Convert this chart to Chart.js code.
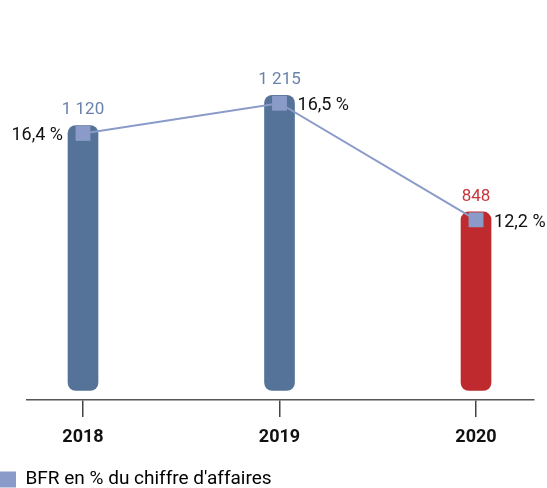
<!DOCTYPE html>
<html>
<head>
<meta charset="utf-8">
<script src="https://cdn.jsdelivr.net/npm/chart.js@4/dist/chart.umd.min.js"></script>
<style>
html, body { margin: 0; padding: 0; background: #ffffff; }
#wrap { width: 547px; height: 488px; position: relative; }
</style>
</head>
<body>
<div id="wrap"><canvas id="c" width="547" height="488"></canvas></div>
<script>
// ---- data ----
const years = ['2018', '2019', '2020'];
const bfrValues = [1120, 1215, 848];
const bfrPct = [16.4, 16.5, 12.2];
const legendLabel = "BFR en % du chiffre d'affaires";

// ---- styles ----
const barColors = ['#557398', '#557398', '#bf2a2f'];
const valueLabelColors = ['#6883ab', '#6883ab', '#c7363b'];
const lineColor = '#8a9bc9';
const pctSide = ['left', 'right', 'right'];
const yMin = 256, yMax = 1452, barBase = 286, markerShift = 25;

const fmtNum = v => String(v).replace(/\B(?=(\d{3})+(?!\d))/g, ' ');
const fmtPct = v => v.toFixed(1).replace('.', ',') + ' %';

Chart.defaults.font.family = 'Roboto, "Liberation Sans", sans-serif';

const labelPlugin = {
  id: 'valueLabels',
  afterDatasetsDraw(chart) {
    const ctx = chart.ctx;
    ctx.save();
    ctx.textBaseline = 'alphabetic';
    ctx.font = '17px Roboto';
    ctx.textAlign = 'center';
    chart.getDatasetMeta(1).data.forEach((el, i) => {
      ctx.fillStyle = valueLabelColors[i];
      ctx.fillText(fmtNum(bfrValues[i]), el.x, el.y - 11);
    });
    ctx.font = '18px Roboto';
    ctx.fillStyle = '#111111';
    chart.getDatasetMeta(0).data.forEach((pt, i) => {
      const left = pctSide[i] === 'left';
      ctx.textAlign = left ? 'right' : 'left';
      ctx.fillText(fmtPct(bfrPct[i]), left ? pt.x - 20 : pt.x + 18, pt.y + 7);
    });
    ctx.restore();
  }
};

new Chart(document.getElementById('c'), {
  data: {
    datasets: [
      {
        type: 'line',
        label: legendLabel,
        data: bfrValues.map((v, i) => ({ x: i, y: v })),
        yAxisID: 'y2',
        borderColor: lineColor,
        backgroundColor: lineColor,
        borderWidth: 2,
        pointStyle: 'rect',
        pointRadius: 10.5,
        pointHoverRadius: 10.5,
        pointBackgroundColor: lineColor,
        pointBorderWidth: 0,
        tension: 0,
        order: 0
      },
      {
        type: 'bar',
        label: 'BFR',
        data: bfrValues.map((v, i) => ({ x: i, y: v })),
        yAxisID: 'y',
        base: barBase,
        backgroundColor: barColors,
        borderRadius: 8,
        borderSkipped: false,
        barThickness: 30,
        order: 1
      }
    ]
  },
  options: {
    responsive: false,
    animation: false,
    devicePixelRatio: 1,
    events: [],
    layout: { padding: { top: 20, left: 0, right: 13, bottom: -11 } },
    scales: {
      x: {
        type: 'linear',
        offset: false,
        min: -0.285,
        max: 2.295,
        afterBuildTicks: s => { s.ticks = years.map((_, i) => ({ value: i })); },
        afterFit: s => { s.height = 70; },
        grid: { offset: false, drawOnChartArea: false, drawTicks: true, tickLength: 17, color: '#444', lineWidth: 1.5 },
        border: { display: true, color: '#555', width: 1.5 },
        ticks: {
          callback: v => years[v],
          font: { size: 18, weight: 'bold' },
          color: '#111',
          padding: 10,
          maxRotation: 0,
          autoSkip: false
        }
      },
      y: {
        min: yMin, max: yMax,
        display: true,
        grid: { display: false },
        border: { display: false },
        ticks: { display: false },
        afterFit: s => { s.width = 27; }
      },
      y2: {
        min: yMin + markerShift, max: yMax + markerShift,
        display: false
      }
    },
    plugins: {
      tooltip: { enabled: false },
      legend: {
        position: 'bottom',
        align: 'start',
        labels: {
          boxWidth: 16,
          boxHeight: 16,
          padding: 0,
          color: '#333',
          font: { size: 19 },
          generateLabels: () => [{
            text: legendLabel,
            fillStyle: lineColor,
            strokeStyle: lineColor,
            lineWidth: 0,
            datasetIndex: 0,
            hidden: false
          }]
        }
      }
    }
  },
  plugins: [labelPlugin]
});
</script>
</body>
</html>
